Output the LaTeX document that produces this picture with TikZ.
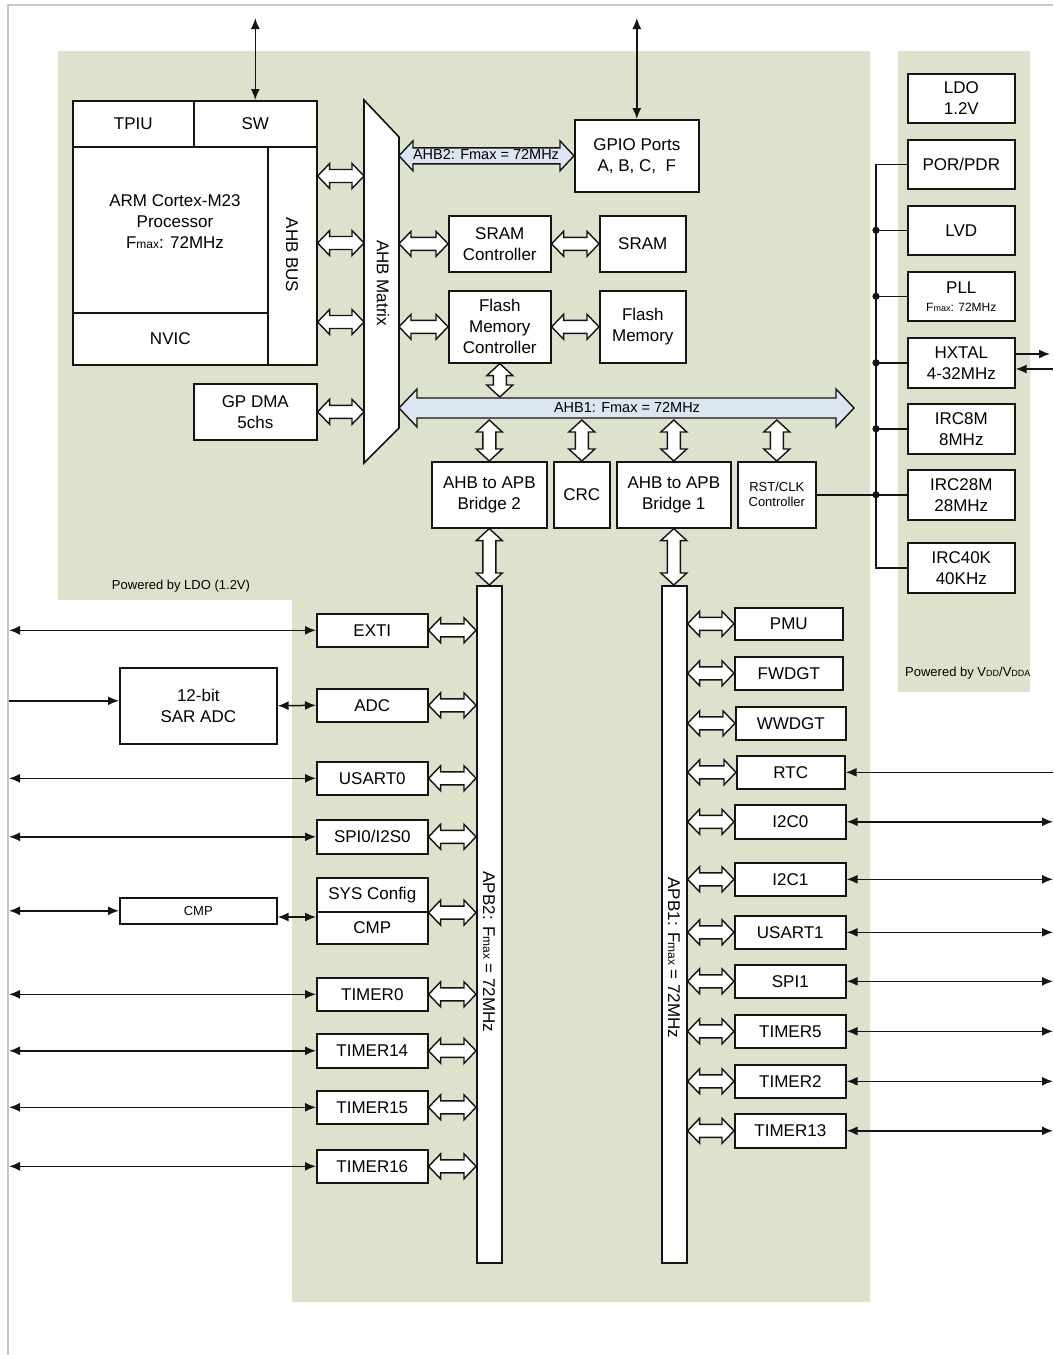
\documentclass[tikz,border=0pt]{standalone}
\usepackage{fontspec}
\setmainfont{Liberation Sans}
\usetikzlibrary{calc,arrows.meta}
\definecolor{gbg}{RGB}{221,226,205}
\definecolor{lblue}{RGB}{220,230,242}
\definecolor{framegray}{RGB}{200,200,200}
\definecolor{ink}{RGB}{20,20,20}
\newcommand{\fs}{\fontsize{17}{21}\selectfont}
\newcommand{\fsm}{\fontsize{13}{15}\selectfont}
\newcommand{\smx}[1]{{\fontsize{12}{12}\selectfont #1}}
\newcommand{\tnx}[1]{{\fontsize{9}{9}\selectfont #1}}
\tikzset{
  box/.style={draw=ink, line width=1.6pt, fill=white, inner sep=1pt, align=center, font=\fs},
  shapebox/.style={draw=ink, line width=1.6pt, fill=white},
  txt/.style={font=\fs, inner sep=0pt, align=center},
  hol/.style={draw=ink, line width=1.4pt, fill=white, line join=miter},
  busar/.style={draw=ink, line width=1.4pt, fill=lblue, line join=miter},
  sig/.style={draw=ink, line width=1.5pt},
  wire/.style={draw=ink, line width=1.5pt}
}
% box: [opts]{x1}{y1}{x2}{y2}{name}{text}
\newcommand{\bx}[7][]{\node[box,anchor=north west,minimum width={(#4-#2)*1pt},minimum height={(#5-#3)*1pt},#1] (#6) at (#2,#3) {#7};}
% horizontal hollow double arrow: style, left pt, right pt, head length, head half, shaft half
\newcommand{\harrow}[6]{\draw[#1] let \p1=#2, \p2=#3 in (\x1,\y1) -- (\x1+#4,\y1+#5) -- (\x1+#4,\y1+#6) -- (\x2-#4,\y1+#6) -- (\x2-#4,\y1+#5) -- (\x2,\y1) -- (\x2-#4,\y1-#5) -- (\x2-#4,\y1-#6) -- (\x1+#4,\y1-#6) -- (\x1+#4,\y1-#5) -- cycle;}
% vertical hollow double arrow: style, top pt, bottom pt, head length, head half, shaft half
\newcommand{\varrow}[6]{\draw[#1] let \p1=#2, \p2=#3 in (\x1,\y1) -- (\x1+#5,\y1-#4) -- (\x1+#6,\y1-#4) -- (\x1+#6,\y2+#4) -- (\x1+#5,\y2+#4) -- (\x1,\y2) -- (\x1-#5,\y2+#4) -- (\x1-#6,\y2+#4) -- (\x1-#6,\y1-#4) -- (\x1-#5,\y1-#4) -- cycle;}
\newcommand{\hol}[2]{\harrow{hol}{#1}{#2}{12pt}{12.5pt}{6.5pt}}
\newcommand{\vol}[2]{\varrow{hol}{#1}{#2}{12pt}{13pt}{6.5pt}}

\begin{document}
\begin{tikzpicture}[x=1pt,y=-1pt,>={Latex[length=11pt,width=9pt]}]
\useasboundingbox (0,0) rectangle (1053,1355);
% frame and backgrounds
\draw[framegray, line width=1.5pt] (8,1355) -- (8,5) -- (1053,5);
\fill[gbg] (58,51) -- (870,51) -- (870,1302) -- (292,1302) -- (292,600) -- (58,600) -- cycle;
\fill[gbg] (898,51) rectangle (1030,692);

% named free ends
\coordinate (lx) at (9,0);
\coordinate (rx) at (1053,0);
\coordinate (swext) at (255,18);
\coordinate (gpioext) at (636,18);
\coordinate (mtxL) at (364,0);
\coordinate (mtxR) at (399,0);
\coordinate (ahb1L) at (399,408);
\coordinate (ahb1R) at (854,408);
\coordinate (ahb1top) at (0,397);
\coordinate (ahb1bot) at (0,420);
\coordinate (busx) at (876,0);
\coordinate (y176) at (0,176);
\coordinate (y243) at (0,243);
\coordinate (y322) at (0,322);
\coordinate (y917) at (0,917);

% CPU block
\bx{72}{100}{193}{146}{tpiu}{TPIU}
\bx{193}{100}{316}{146}{sw}{SW}
\bx{72}{146}{267}{312}{core}{}
\bx{72}{312}{267}{364}{nvic}{NVIC}
\bx{267}{146}{316}{364}{ahbbus}{}
\node[txt] (coretxt) at (175,222) {ARM Cortex-M23\\Processor\\F\smx{max}: 72MHz};
\node[txt, rotate=-90] (ahbbustxt) at (292,255) {AHB BUS};
\bx{193}{383}{316}{439}{dma}{GP DMA\\5chs}

% AHB matrix
\draw[shapebox] (364,100) -- (399,137) -- (399,428) -- (364,463) -- cycle;
\node[txt, rotate=-90] (mtxtxt) at (383,283) {AHB Matrix};

% AHB side blocks
\bx{574}{119}{698}{191}{gpio}{GPIO Ports\\A, B, C,\ \ F}
\bx{448}{215}{550}{271}{sctl}{SRAM\\Controller}
\bx{599}{215}{685}{271}{sram}{SRAM}
\bx{448}{290}{550}{362}{fctl}{Flash\\Memory\\Controller}
\bx{599}{290}{685}{362}{fmem}{Flash\\Memory}
\bx{431}{461}{546}{527}{br2}{AHB to APB\\Bridge 2}
\bx{553}{461}{609}{527}{crc}{CRC}
\bx{616}{461}{730}{527}{br1}{AHB to APB\\Bridge 1}
\bx[font=\fsm]{737}{461}{815}{527}{rst}{RST/CLK\\Controller}

% top external arrows
\draw[sig,<->] (sw.north) -- (sw.north |- swext);
\draw[sig,<->] (gpio.north) -- (gpio.north |- gpioext);

% CPU to matrix
\hol{(ahbbus.east |- y176)}{(mtxL |- y176)}
\hol{(ahbbus.east |- y243)}{(mtxL |- y243)}
\hol{(ahbbus.east |- y322)}{(mtxL |- y322)}
\hol{(dma.east)}{(dma.east -| mtxL)}
% matrix to memories
\hol{(mtxR |- sctl.west)}{(sctl.west)}
\hol{(sctl.east)}{(sram.west)}
\hol{(mtxR |- fctl.west)}{(fctl.west)}
\hol{(fctl.east)}{(fmem.west)}

% AHB2 bus
\harrow{busar}{(mtxR |- gpio.west)}{(gpio.west)}{14pt}{15pt}{8pt}
\node[font=\fontsize{14.5}{16}\selectfont, inner sep=0pt] (ahb2lbl) at (486,155) {AHB2: Fmax = 72MHz};
% AHB1 bus
\harrow{busar}{(ahb1L)}{(ahb1R)}{18pt}{19pt}{10pt}
\node[font=\fontsize{14.5}{16}\selectfont, inner sep=0pt] (ahb1lbl) at (627,408) {AHB1: Fmax = 72MHz};
\vol{(fctl.south)}{(fctl.south |- ahb1top)}
\vol{(br2.north |- ahb1bot)}{(br2.north)}
\vol{(crc.north |- ahb1bot)}{(crc.north)}
\vol{(br1.north |- ahb1bot)}{(br1.north)}
\vol{(rst.north |- ahb1bot)}{(rst.north)}

% APB buses
\bx{476}{585}{501}{1262}{apb2}{}
\bx{661}{585}{686}{1262}{apb1}{}
\node[txt, rotate=-90] (apb2lbl) at (489,952) {APB2: F\smx{max} = 72MHz};
\node[txt, rotate=-90] (apb1lbl) at (674,958) {APB1: F\smx{max} = 72MHz};
\vol{(br2.south)}{(apb2.north)}
\vol{(br1.south)}{(apb1.north)}

% APB2 peripherals
\bx{316}{613}{427}{646}{exti}{EXTI}
\bx{316}{688}{427}{721}{adc}{ADC}
\bx{316}{761}{427}{794}{usart0}{USART0}
\bx{316}{819}{427}{853}{spi0}{SPI0/I2S0}
\bx{316}{877}{427}{911}{syscfg}{SYS Config}
\bx{316}{911}{427}{943}{cmp}{CMP}
\bx{316}{977}{427}{1010}{tim0}{TIMER0}
\bx{316}{1033}{427}{1067}{tim14}{TIMER14}
\bx{316}{1090}{427}{1123}{tim15}{TIMER15}
\bx{316}{1149}{427}{1182}{tim16}{TIMER16}
\bx{119}{667}{276}{743}{sar}{12-bit\\SAR ADC}
\bx[font=\fsm]{119}{897}{276}{923}{cmps}{CMP}

\foreach \nm in {exti,adc,usart0,spi0,tim0,tim14,tim15,tim16}{
  \hol{(\nm.east)}{(\nm.east -| apb2.west)}
}
\hol{(syscfg.south east)}{(syscfg.south east -| apb2.west)}
\foreach \nm in {exti,usart0,spi0,tim0,tim14,tim15,tim16}{
  \draw[sig,<->] (\nm.west -| lx) -- (\nm.west);
}
\draw[sig,->] ([yshift=5pt]sar.west -| lx) -- ([yshift=5pt]sar.west);
\draw[sig,<->] (sar.east) -- (adc.west);
\draw[sig,<->] (cmps.west -| lx) -- (cmps.west);
\draw[sig,<->] (cmps.east |- y917) -- (cmp.west |- y917);

% APB1 peripherals
\bx{734}{607}{842}{639}{pmu}{PMU}
\bx{734}{656}{842}{689}{fwdgt}{FWDGT}
\bx{735}{706}{845}{739}{wwdgt}{WWDGT}
\bx{736}{755}{844}{788}{rtc}{RTC}
\bx{734}{804}{845}{838}{itc0}{I2C0}
\bx{734}{862}{845}{895}{itc1}{I2C1}
\bx{734}{915}{845}{948}{usart1}{USART1}
\bx{734}{964}{845}{997}{spi1}{SPI1}
\bx{734}{1014}{845}{1047}{tim5}{TIMER5}
\bx{734}{1064}{845}{1097}{tim2}{TIMER2}
\bx{734}{1113}{845}{1147}{tim13}{TIMER13}
\foreach \nm in {pmu,fwdgt,wwdgt,rtc,itc0,itc1,usart1,spi1,tim5,tim2,tim13}{
  \hol{(\nm.west -| apb1.east)}{(\nm.west)}
}
\draw[sig,<-] (rtc.east) -- (rtc.east -| rx);
\foreach \nm in {itc0,itc1,usart1,spi1,tim5,tim2,tim13}{
  \draw[sig,<->] (\nm.east) -- (\nm.east -| rx);
}

% power / clock panel
\bx{907}{73}{1014}{122}{ldo}{LDO\\1.2V}
\bx{907}{139}{1014}{188}{por}{POR/PDR}
\bx{907}{205}{1014}{254}{lvd}{LVD}
\bx{907}{271}{1014}{320}{pll}{PLL\\[-3pt]{\fontsize{12}{14}\selectfont F\tnx{max}: 72MHz}}
\bx{907}{337}{1014}{387}{hxtal}{HXTAL\\4-32MHz}
\bx{907}{403}{1014}{453}{irc8}{IRC8M\\8MHz}
\bx{907}{469}{1014}{519}{irc28}{IRC28M\\28MHz}
\bx{907}{542}{1014}{592}{irc40}{IRC40K\\40KHz}

\draw[wire] (por.west) -- (por.west -| busx) -- (irc40.west -| busx) -- (irc40.west);
\foreach \nm in {lvd,pll,hxtal,irc8,irc28}{
  \draw[wire] (\nm.west -| busx) -- (\nm.west);
  \fill[ink] (\nm.west -| busx) circle (3.6pt);
}
\draw[wire] (rst.east) -- (rst.east -| busx);

\coordinate (hxo) at (1050,354);
\coordinate (hxi) at (1053,369);
\draw[sig,->] (hxtal.east |- hxo) -- (hxo);
\draw[sig,->] (hxi) -- (hxtal.east |- hxi);

% captions
\node[font=\fsm, inner sep=0pt] (pwrldo) at (181,586) {Powered by LDO (1.2V)};
\node[font=\fsm, inner sep=0pt, anchor=west] (pwrvdd) at (905,673) {Powered by V\tnx{DD}/V\tnx{DDA}};
\end{tikzpicture}
\end{document}
